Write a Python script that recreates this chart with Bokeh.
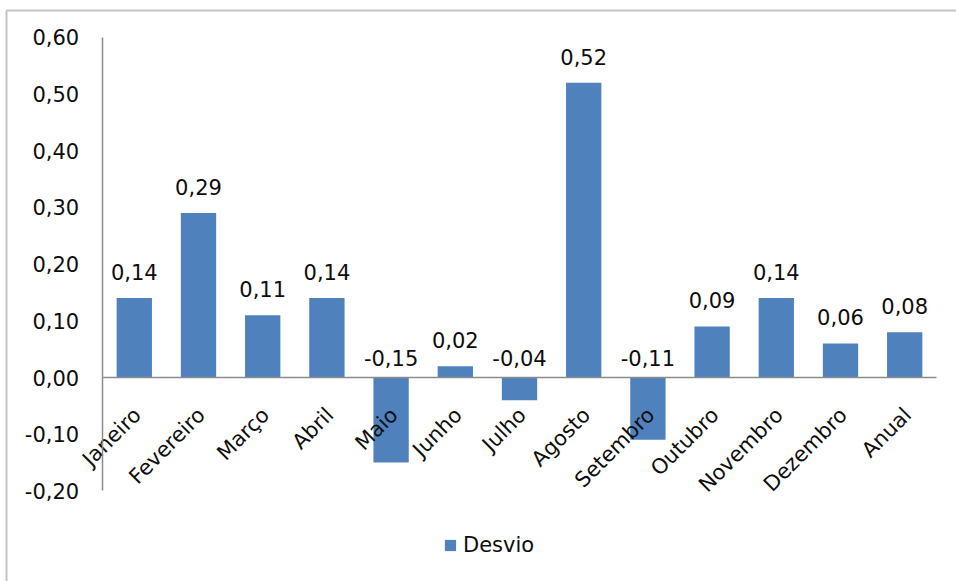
import math

from bokeh.core.properties import value
from bokeh.embed import file_html
from bokeh.models import (ColumnDataSource, CustomJSTickFormatter, FixedTicker,
                          Legend, LegendItem, LinearAxis, Range1d)
from bokeh.plotting import figure
from bokeh.resources import INLINE

# ---- data -------------------------------------------------------------
months = ["Janeiro", "Fevereiro", "Março", "Abril", "Maio", "Junho", "Julho",
          "Agosto", "Setembro", "Outubro", "Novembro", "Dezembro", "Anual"]
desvio = [0.14, 0.29, 0.11, 0.14, -0.15, 0.02, -0.04, 0.52, -0.11, 0.09,
          0.14, 0.06, 0.08]
y_ticks = [-0.2, -0.1, 0.0, 0.1, 0.2, 0.3, 0.4, 0.5, 0.6]
series_name = "Desvio"

# ---- layout (pixels) --------------------------------------------------
W, H = 956, 581
X0_PX = 133.8      # centre of the first category
STEP_PX = 64.2     # width of one category slot
ZERO_PX = 377.0    # vertical position of the value 0
UNIT_PX = 567.0    # pixels per 1.0 on the value axis

x_start = -X0_PX / STEP_PX
x_end = x_start + W / STEP_PX
y_end = ZERO_PX / UNIT_PX
y_start = -(H - ZERO_PX) / UNIT_PX


def px_x(px):
    return x_start + px / STEP_PX


def px_y(px):
    return y_end - px / UNIT_PX


FONT = "DejaVu Sans"
TEXT_COLOR = "#0d0d0d"
BAR_COLOR = "#4F81BD"
AXIS_COLOR = "#8c8c8c"

p = figure(width=W, height=H, x_range=Range1d(x_start, x_end),
           y_range=Range1d(y_start, y_end), x_axis_type=None, y_axis_type=None,
           output_backend="svg", toolbar_location=None, min_border=0)
p.outline_line_color = None
p.background_fill_color = "white"
p.border_fill_color = "white"

# chart area border (top and left edges visible)
p.line([px_x(6), px_x(6), px_x(W + 10)], [px_y(H + 10), px_y(10), px_y(10)],
       line_color="#c4c4c4", line_width=2)

idx = list(range(len(months)))
src = ColumnDataSource(dict(
    x=idx,
    desvio=desvio,
    month=months,
    label=[f"{v:.2f}".replace(".", ",") for v in desvio],
    label_y=[max(v, 0) for v in desvio],
    label_off=[-26 if v > 0 else -20 for v in desvio],
))

bars = p.vbar(x="x", top="desvio", bottom=0, width=0.55, source=src,
              fill_color=BAR_COLOR, line_color=None)

# value axis
yaxis = LinearAxis(fixed_location=-0.5, ticker=FixedTicker(ticks=y_ticks),
                   formatter=CustomJSTickFormatter(
                       code="return tick.toFixed(2).replace('.', ',');"),
                   bounds=(-0.2, 0.6))
yaxis.major_tick_out = 0
yaxis.major_tick_in = 0
yaxis.minor_tick_out = 0
yaxis.minor_tick_in = 0
yaxis.axis_line_color = AXIS_COLOR
yaxis.axis_line_width = 1.5
yaxis.major_label_standoff = 23
yaxis.major_label_text_font = FONT
yaxis.major_label_text_font_size = "21px"
yaxis.major_label_text_color = TEXT_COLOR
p.add_layout(yaxis, "left")

# category axis line at zero
xaxis = LinearAxis(fixed_location=0, ticker=FixedTicker(ticks=[]),
                   bounds=(-0.5, len(months) - 0.5))
xaxis.major_tick_out = 0
xaxis.major_tick_in = 0
xaxis.minor_tick_out = 0
xaxis.minor_tick_in = 0
xaxis.axis_line_color = AXIS_COLOR
xaxis.axis_line_width = 1.5
xaxis.major_label_text_font_size = "0px"
p.add_layout(xaxis, "below")

# rotated category names
p.text(x="x", y=0, text="month", source=src, angle=math.pi / 4,
       text_align="right", text_baseline="middle", x_offset=3, y_offset=34,
       text_font=value(FONT), text_font_size="21px", text_color=TEXT_COLOR)

# value labels
p.text(x="x", y="label_y", text="label", source=src, y_offset="label_off",
       text_align="center", text_baseline="middle",
       text_font=value(FONT), text_font_size="21px", text_color=TEXT_COLOR)

legend = Legend(items=[LegendItem(label=series_name, renderers=[bars])],
                location=(443, 24), orientation="horizontal",
                glyph_width=14, glyph_height=14, label_standoff=6,
                padding=0, margin=0, border_line_color=None,
                background_fill_alpha=0, label_text_font=FONT,
                label_text_font_size="21px", label_text_color=TEXT_COLOR)
p.add_layout(legend)

open("out.html", "w").write(file_html(p, INLINE))
